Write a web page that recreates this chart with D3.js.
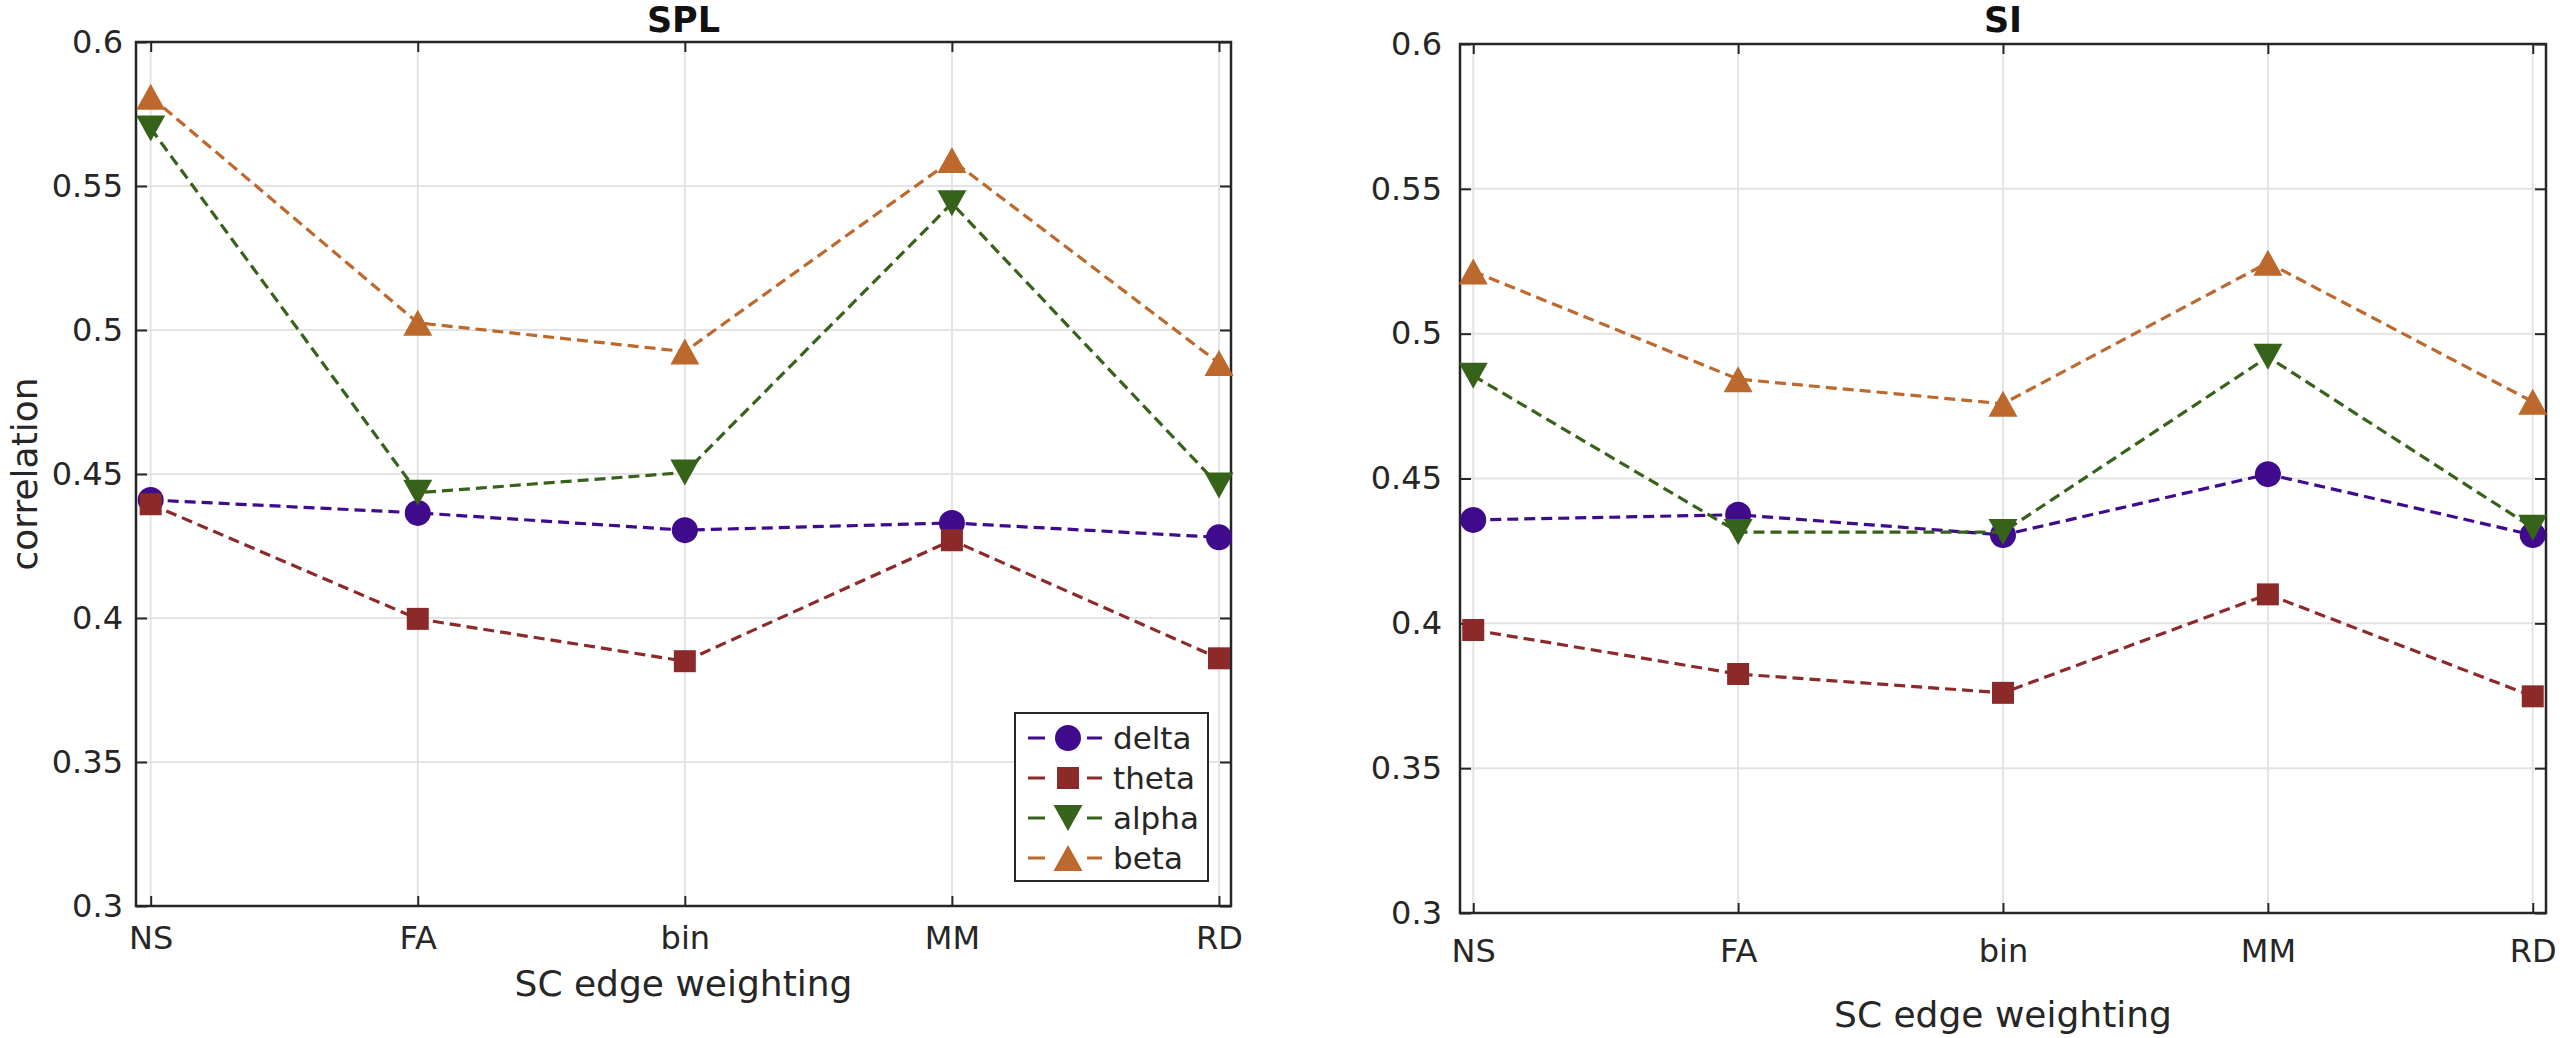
<!DOCTYPE html>
<html>
<head>
<meta charset="utf-8">
<script src="https://cdn.jsdelivr.net/npm/d3@7"></script>
<style>
  body { margin: 0; background: #fff; }
  text { font-family: "DejaVu Sans", sans-serif; fill: #262626; }
</style>
</head>
<body>
<div id="chart"></div>
<script>
// Data
const categories = ["NS", "FA", "bin", "MM", "RD"];
const bands = ["delta", "theta", "alpha", "beta"];
const yTicks = [0.3, 0.35, 0.4, 0.45, 0.5, 0.55, 0.6];

const splDelta = [0.441, 0.4365, 0.4305, 0.433, 0.428];
const splTheta = [0.4395, 0.3997, 0.385, 0.427, 0.386];
const splAlpha = [0.570, 0.4435, 0.4505, 0.544, 0.446];
const splBeta = [0.581, 0.5025, 0.4925, 0.559, 0.4885];

const siDelta = [0.4357, 0.4375, 0.4305, 0.4515, 0.4305];
const siTheta = [0.3977, 0.3825, 0.376, 0.410, 0.3748];
const siAlpha = [0.4855, 0.4315, 0.4315, 0.492, 0.433];
const siBeta = [0.5215, 0.4843, 0.4758, 0.5245, 0.4765];

const colors = { delta: "#400a8c", theta: "#8c2a2a", alpha: "#36621a", beta: "#bd682c" };
const shapes = { delta: "circle", theta: "square", alpha: "down", beta: "up" };

const width = 2560, height = 1038;

const svg = d3.select("#chart")
  .append("svg")
  .attr("width", width)
  .attr("height", height);

svg.append("rect").attr("width", width).attr("height", height).attr("fill", "#fff");

// marker path centred on 0,0
function markerPath(shape) {
  if (shape === "circle") return d3.symbol(d3.symbolCircle, Math.PI * 13 * 13)();
  if (shape === "square") return "M-11,-11H11V11H-11Z";
  if (shape === "up") return "M0,-13L14.5,13H-14.5Z";
  return "M0,13L14.5,-13H-14.5Z";
}

function drawPanel(p) {
  const x = d3.scaleLinear().domain(p.xDomain).range([p.left, p.right]);
  const y = d3.scaleLinear().domain([0.3, 0.6]).range([p.bottom, p.top]);
  const g = svg.append("g");

  // grid
  g.selectAll("line.hgrid")
    .data(yTicks)
    .enter().append("line")
    .attr("x1", p.left).attr("x2", p.right)
    .attr("y1", d => y(d)).attr("y2", d => y(d))
    .style("stroke", "#e3e3e3").style("stroke-width", 2);

  g.selectAll("line.vgrid")
    .data(categories)
    .enter().append("line")
    .attr("x1", (d, i) => x(i + 1)).attr("x2", (d, i) => x(i + 1))
    .attr("y1", p.top).attr("y2", p.bottom)
    .style("stroke", "#e3e3e3").style("stroke-width", 2);

  // axes (ticks pointing inward)
  const catIdx = categories.map((d, i) => i + 1);
  g.append("g")
    .attr("transform", `translate(0,${p.bottom})`)
    .call(d3.axisBottom(x).tickValues(catIdx).tickFormat(d => categories[d - 1])
      .tickSize(-10).tickSizeOuter(0).tickPadding(p.xPad));
  g.append("g")
    .attr("transform", `translate(${p.left},0)`)
    .call(d3.axisLeft(y).tickValues(yTicks).tickFormat(d3.format("")).tickSize(-11).tickSizeOuter(0).tickPadding(p.yPad));
  g.append("g")
    .attr("transform", `translate(0,${p.top})`)
    .call(d3.axisTop(x).tickValues(catIdx).tickFormat("").tickSize(-10).tickSizeOuter(0));
  g.append("g")
    .attr("transform", `translate(${p.right},0)`)
    .call(d3.axisRight(y).tickValues(yTicks).tickFormat("").tickSize(-11).tickSizeOuter(0));

  g.selectAll(".domain").remove();
  g.selectAll(".tick line").style("stroke", "#262626").style("stroke-width", 2);
  g.selectAll(".tick text").style("font-size", "32px").style("fill", "#262626")
    .style("font-family", "DejaVu Sans");

  g.append("rect")
    .attr("x", p.left).attr("y", p.top)
    .attr("width", p.right - p.left).attr("height", p.bottom - p.top)
    .style("fill", "none").style("stroke", "#262626").style("stroke-width", 2.5);

  // series
  const line = d3.line().x((d, i) => x(i + 1)).y(d => y(d));
  bands.forEach((b, k) => {
    const vals = p.series[k];
    g.append("path")
      .datum(vals)
      .attr("d", line)
      .style("fill", "none")
      .style("stroke", colors[b])
      .style("stroke-width", 3.2)
      .style("stroke-dasharray", "11,6");
    g.selectAll(`path.m-${b}`)
      .data(vals)
      .enter().append("path")
      .attr("class", `m-${b}`)
      .attr("transform", (d, i) => `translate(${x(i + 1)},${y(d)})`)
      .attr("d", markerPath(shapes[b]))
      .style("fill", colors[b]);
  });

  // title
  g.append("text")
    .attr("x", (p.left + p.right) / 2)
    .attr("y", 32)
    .attr("text-anchor", "middle")
    .style("font-size", "35px")
    .style("font-weight", "bold")
    .style("fill", "#111")
    .text(p.title);

  // x label
  g.append("text")
    .attr("x", (p.left + p.right) / 2)
    .attr("y", p.xLabelY)
    .attr("text-anchor", "middle")
    .style("font-size", "36px")
    .text("SC edge weighting");

  return { x, y, g };
}

drawPanel({
  title: "SPL", left: 136, right: 1231, top: 42, bottom: 906,
  xDomain: [0.945, 5.045], xPad: 20, yPad: 13, xLabelY: 996,
  series: [splDelta, splTheta, splAlpha, splBeta]
});

drawPanel({
  title: "SI", left: 1460, right: 2546, top: 44, bottom: 913,
  xDomain: [0.95, 5.05], xPad: 26, yPad: 18, xLabelY: 1027,
  series: [siDelta, siTheta, siAlpha, siBeta]
});

// y label
svg.append("text")
  .attr("transform", "translate(37,474) rotate(-90)")
  .attr("text-anchor", "middle")
  .style("font-size", "36px")
  .text("correlation");

// legend
const legend = svg.append("g").attr("transform", "translate(1015,713)");
legend.append("rect")
  .attr("width", 193).attr("height", 168)
  .style("fill", "#fff").style("stroke", "#262626").style("stroke-width", 2);

const rows = legend.selectAll("g.row")
  .data(bands)
  .enter().append("g")
  .attr("transform", (d, i) => `translate(0,${25 + i * 40})`);

rows.append("line")
  .attr("x1", 13).attr("x2", 87)
  .style("stroke", d => colors[d]).style("stroke-width", 3)
  .style("stroke-dasharray", "17,42");
rows.append("path")
  .attr("transform", "translate(53,0)")
  .attr("d", d => markerPath(shapes[d]))
  .style("fill", d => colors[d]);
rows.append("text")
  .attr("x", 98).attr("y", 11)
  .style("font-size", "31px")
  .text(d => d);
</script>
</body>
</html>
